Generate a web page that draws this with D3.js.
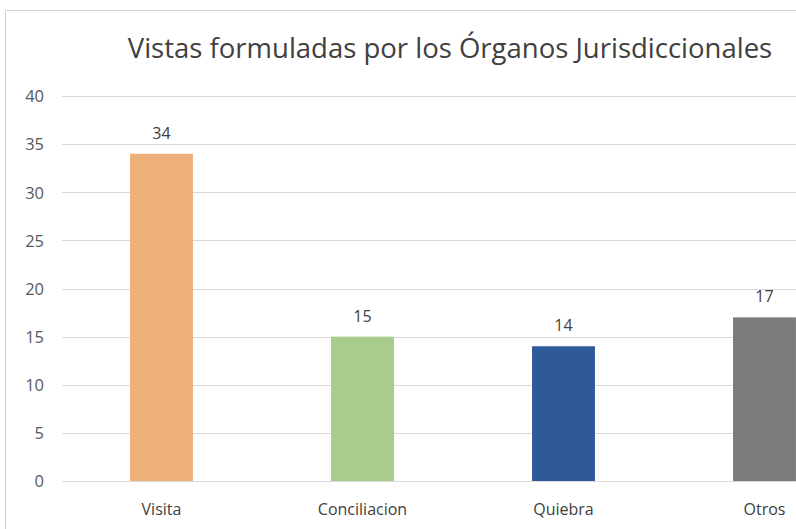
<!DOCTYPE html>
<html><head><meta charset="utf-8">
<script src="https://cdn.jsdelivr.net/npm/d3@7"></script>
<style>body{margin:0;background:#fff}svg{display:block}text{font-family:"Open Sans",Lato,sans-serif}</style>
</head><body>
<svg id="c" width="796" height="529"></svg>
<script>
const categories = ["Visita", "Conciliacion", "Quiebra", "Otros"];
const values = [34, 15, 14, 17];
const colors = ["#EEB07B", "#A8CC8B", "#2E5A98", "#7B7B7B"];
const yTicks = [0, 5, 10, 15, 20, 25, 30, 35, 40];
const title = "Vistas formuladas por los Órganos Jurisdiccionales";

const FONT = '"Open Sans",Lato,sans-serif';
const svg = d3.select("#c");
svg.append("rect").attr("width",796).attr("height",529).attr("fill","#fff");
// chart border
svg.append("path").attr("d","M5.5,529 V10.5 H796").attr("fill","none").attr("stroke","#d0d0d0").attr("stroke-width",1);

const x = d3.scaleBand().domain(categories).range([61, 865]).paddingInner(0.687).paddingOuter(0.3435);
const y = d3.scaleLinear().domain([0, 40]).range([481, 96]);

// gridlines
svg.append("g").selectAll("line").data(yTicks).join("line")
  .attr("x1", 62).attr("x2", 865)
  .attr("y1", d => Math.round(y(d)) + 0.5).attr("y2", d => Math.round(y(d)) + 0.5)
  .attr("stroke", "#d9d9d9").attr("stroke-width", 1);

// y axis labels
const yAxis = d3.axisLeft(y).tickValues(yTicks).tickSize(0).tickPadding(0);
const gy = svg.append("g").attr("transform","translate(44,0)").call(yAxis);
gy.select(".domain").remove();
gy.selectAll("text").attr("font-size", 16.5).attr("fill", "#595959").attr("dy","0.35em").style("font-family",FONT);

// bars
svg.append("g").selectAll("rect").data(values).join("rect")
  .attr("x", (d,i) => x(categories[i]))
  .attr("width", x.bandwidth())
  .attr("y", d => y(d))
  .attr("height", d => y(0) - y(d))
  .attr("fill", (d,i) => colors[i]);

// value labels
svg.append("g").selectAll("text").data(values).join("text")
  .attr("x", (d,i) => x(categories[i]) + x.bandwidth()/2)
  .attr("y", d => y(d) - 15)
  .attr("text-anchor","middle").attr("font-size",16).attr("fill","#404040")
  .text(d => d);

// x axis labels
const xAxis = d3.axisBottom(x).tickSize(0).tickPadding(0);
const gx = svg.append("g").attr("transform","translate(0,515)").call(xAxis);
gx.select(".domain").remove();
gx.selectAll("text").attr("font-size",16).attr("fill","#404040").attr("dy","0").style("font-family",FONT);

// title
svg.append("text").attr("x", 450).attr("y", 58).attr("text-anchor","middle")
  .attr("font-size", 27.5).attr("fill","#404040").text(title);
</script>
</body></html>
